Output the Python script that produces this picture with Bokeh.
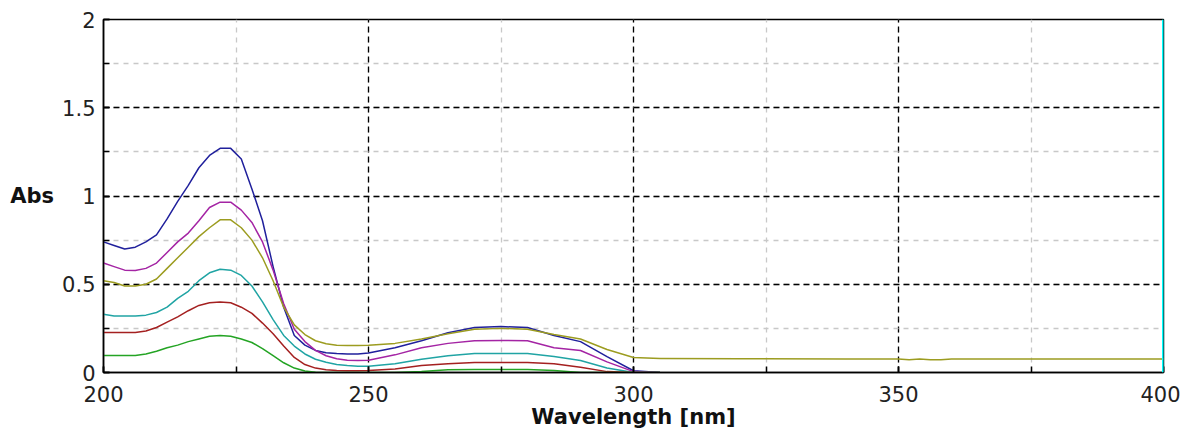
from bokeh.plotting import figure
from bokeh.models import (Range1d, SingleIntervalTicker, CustomJSTickFormatter,
                          Label, Span)
from bokeh.embed import file_html
from bokeh.resources import INLINE

# ---------------- data ----------------
wl = [200, 202, 204, 206, 208, 210, 212, 214, 216, 218, 220, 222, 224, 226,
      228, 230, 232, 234, 236, 238, 240, 242, 244, 246, 248, 250,
      255, 260, 265, 270, 275, 280, 285, 290, 295, 300, 305]

abs_blue = [0.74, 0.72, 0.70, 0.71, 0.74, 0.78, 0.87, 0.97, 1.06, 1.16, 1.23, 1.27, 1.27, 1.21,
            1.04, 0.86, 0.60, 0.37, 0.21, 0.155, 0.125, 0.112, 0.107, 0.105, 0.105, 0.11,
            0.14, 0.18, 0.225, 0.255, 0.26, 0.255, 0.21, 0.175, 0.09, 0.01, 0.0]
abs_magenta = [0.62, 0.60, 0.58, 0.578, 0.59, 0.62, 0.68, 0.74, 0.79, 0.86, 0.935, 0.965, 0.965, 0.92,
               0.85, 0.74, 0.58, 0.39, 0.245, 0.175, 0.125, 0.095, 0.078, 0.07, 0.068, 0.07,
               0.10, 0.14, 0.165, 0.18, 0.182, 0.18, 0.14, 0.125, 0.06, 0.005, 0.0]
abs_olive = [0.52, 0.51, 0.49, 0.49, 0.50, 0.53, 0.59, 0.65, 0.71, 0.77, 0.82, 0.865, 0.865, 0.82,
             0.75, 0.65, 0.52, 0.37, 0.27, 0.215, 0.18, 0.163, 0.155, 0.153, 0.153, 0.155,
             0.165, 0.19, 0.22, 0.245, 0.25, 0.245, 0.215, 0.19, 0.13, 0.085, 0.08]
abs_teal = [0.33, 0.32, 0.32, 0.32, 0.325, 0.34, 0.37, 0.42, 0.46, 0.52, 0.565, 0.585, 0.58, 0.55,
            0.49, 0.40, 0.30, 0.21, 0.15, 0.105, 0.075, 0.058, 0.045, 0.04, 0.036, 0.035,
            0.05, 0.075, 0.095, 0.107, 0.107, 0.107, 0.09, 0.068, 0.025, 0.0, 0.0]
abs_red = [0.227, 0.227, 0.227, 0.227, 0.235, 0.255, 0.285, 0.315, 0.35, 0.38, 0.395, 0.40, 0.395, 0.37,
           0.335, 0.28, 0.22, 0.15, 0.085, 0.045, 0.025, 0.015, 0.012, 0.01, 0.01, 0.012,
           0.02, 0.04, 0.05, 0.056, 0.056, 0.056, 0.05, 0.03, 0.005, 0.0, 0.0]
abs_green = [0.096, 0.096, 0.096, 0.096, 0.105, 0.12, 0.14, 0.155, 0.175, 0.19, 0.205, 0.21, 0.205, 0.19,
             0.17, 0.135, 0.095, 0.055, 0.025, 0.008, 0.002, 0.0, 0.0, 0.0, 0.0, 0.0,
             0.0, 0.005, 0.015, 0.017, 0.017, 0.017, 0.012, 0.0, 0.0, 0.0, 0.0]

# olive (baseline) trace continues to 400 nm
wl_tail = [305, 320, 340, 350, 352, 354, 356, 358, 360, 380, 400]
abs_olive_tail = [0.08, 0.078, 0.077, 0.076, 0.072, 0.076, 0.072, 0.072, 0.076, 0.076, 0.076]

cursor_wavelength = 400

series = [
    ("blue", abs_blue, "#20209c"),
    ("magenta", abs_magenta, "#a424a4"),
    ("olive", abs_olive, "#9c9c20"),
    ("teal", abs_teal, "#20a4a4"),
    ("red", abs_red, "#a42020"),
    ("green", abs_green, "#24a424"),
]

FONT = "DejaVu Sans"

p = figure(width=1180, height=436, output_backend="svg", toolbar_location=None,
           x_range=Range1d(200, 400), y_range=Range1d(0, 2),
           min_border_left=103, min_border_right=17, min_border_top=19, min_border_bottom=64)
p.background_fill_color = "white"
p.border_fill_color = "white"
p.outline_line_color = "black"
p.outline_line_width = 1.5

# axes / ticks
p.xaxis.ticker = SingleIntervalTicker(interval=50, num_minor_ticks=2)
p.yaxis.ticker = SingleIntervalTicker(interval=0.5, num_minor_ticks=2)
p.yaxis.formatter = CustomJSTickFormatter(code="return tick.toString();")
for ax in (p.xaxis[0], p.yaxis[0]):
    ax.axis_line_color = "black"
    ax.axis_line_width = 1.5
    ax.major_tick_in = 6
    ax.major_tick_out = 0
    ax.minor_tick_in = 6
    ax.minor_tick_out = 0
    ax.major_tick_line_color = "black"
    ax.minor_tick_line_color = "black"
    ax.major_tick_line_width = 1.5
    ax.minor_tick_line_width = 1.5
    ax.major_label_text_font = FONT
    ax.major_label_text_font_size = "21px"
    ax.major_label_text_color = "#222222"
p.xaxis.major_label_standoff = 13
p.yaxis.major_label_standoff = 8

p.xaxis.axis_label = "Wavelength [nm]"
p.xaxis.axis_label_text_font = FONT
p.xaxis.axis_label_text_font_style = "bold"
p.xaxis.axis_label_text_font_size = "21px"
p.xaxis.axis_label_text_color = "#111111"
p.xaxis.axis_label_standoff = 0

# horizontal "Abs" label on the left
yax = p.yaxis[0]
if "axis_label_orientation" in yax.properties():
    yax.axis_label = "Abs"
    yax.axis_label_orientation = "horizontal"
    yax.axis_label_text_font = FONT
    yax.axis_label_text_font_style = "bold"
    yax.axis_label_text_font_size = "21px"
    yax.axis_label_text_color = "#111111"
    yax.axis_label_standoff = 5
else:
    p.add_layout(Label(x=200, y=0.93, x_offset=-93, text="Abs", text_font=FONT,
                       text_font_style="bold", text_font_size="21px", text_color="#111111",
                       text_baseline="middle", text_align="left"))

# grids
for g in (p.xgrid[0], p.ygrid[0]):
    g.grid_line_color = "black"
    g.grid_line_dash = "6 4"
    g.grid_line_width = 1.3
    g.minor_grid_line_color = "#c8c8c8"
    g.minor_grid_line_dash = "5 5"
    g.minor_grid_line_width = 1.3

# curves
for name, ys, col in series:
    p.line(wl, ys, line_color=col, line_width=1.5)
p.line(wl_tail, abs_olive_tail, line_color="#9c9c20", line_width=1.5)

# cursor marker at right edge
p.add_layout(Span(location=cursor_wavelength, dimension="height",
                  line_color="#00ffff", line_width=3, level="overlay"))

open("out.html", "w").write(file_html(p, INLINE))
